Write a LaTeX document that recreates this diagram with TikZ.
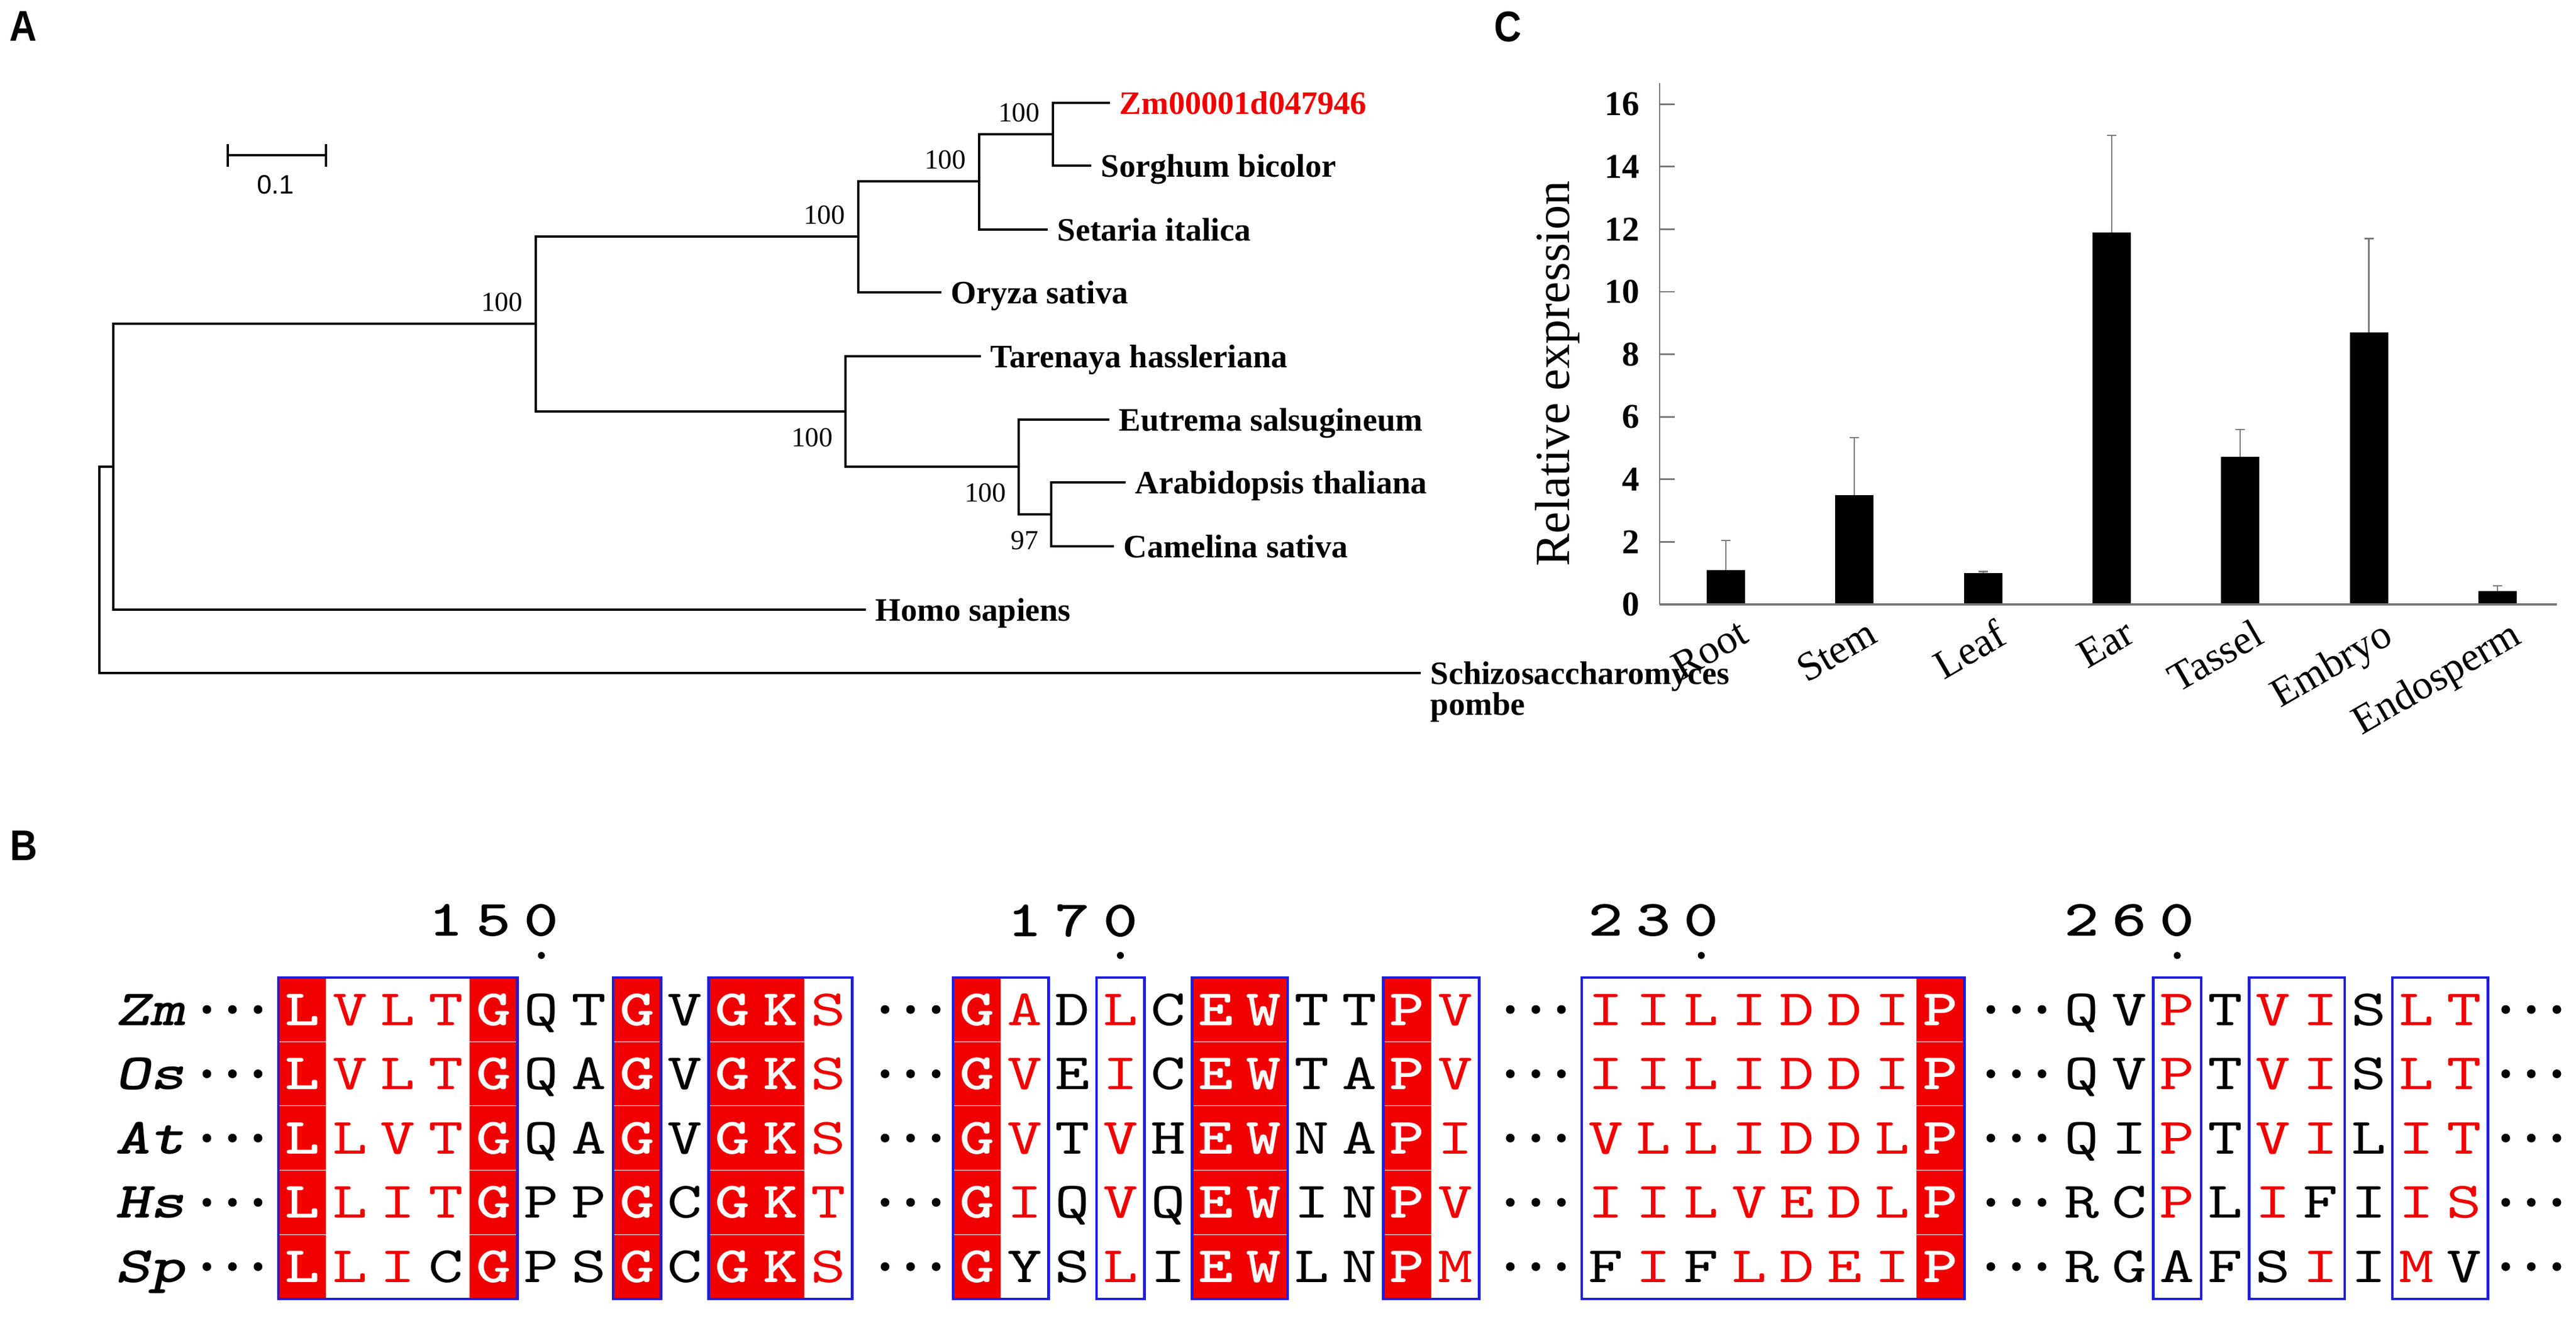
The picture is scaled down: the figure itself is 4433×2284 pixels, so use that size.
\documentclass[tikz,border=0pt]{standalone}
\usepackage{fontspec}
\setmainfont{Liberation Serif}
\newfontfamily\panelfont[FakeStretch=0.88]{Liberation Sans}
\newfontfamily\sbfamily{Liberation Sans}
\newfontfamily\resfont[FakeStretch=1.3]{lmmono10-regular.otf}
\newfontfamily\resboldfont[FakeStretch=1.3]{lmmonolt10-bold.otf}
\newfontfamily\rowfont[FakeStretch=1.3]{lmmonolt10-boldoblique.otf}
\usetikzlibrary{positioning}

\definecolor{espred}{RGB}{240,0,0}
\definecolor{espblue}{RGB}{30,30,220}
\definecolor{axisgray}{RGB}{120,120,120}

\newcommand{\leaffont}{\fontsize{16}{15}\selectfont\bfseries}
\newcommand{\bootfont}{\fontsize{13.5}{16}\selectfont}
\newcommand{\sbfont}{\sbfamily\fontsize{13}{15}\selectfont}
\newcommand{\tickfont}{\fontsize{17}{20}\selectfont\bfseries}
\newcommand{\axisfont}{\fontsize{24}{28}\selectfont}
\newcommand{\catfont}{\fontsize{20}{24}\selectfont}
\newcommand{\panelletter}{\panelfont\bfseries\fontsize{21}{25}\selectfont}
\newcommand{\resfontsize}{\fontsize{25}{30}\selectfont}

% one row of one alignment block: start x, block name, row, residue/code list
\newcommand{\seqrow}[4]{%
  \foreach \res/\code [count=\k from 0] in {#4}{%
    \node[res \code] (#2-#3-\k) at ({#1+82.3*\k+41.15},{1737+110.6*#3}) {\res};
  }}
% three digits on the column grid
\newcommand{\gridnum}[3]{\makebox[0.823cm]{#1}\makebox[0.823cm]{#2}\makebox[0.823cm]{#3}}

\begin{document}
\begin{tikzpicture}[x=0.01cm, y=-0.01cm]
		
		% Setup the styles
		\tikzset{branch/.style={line width=1.1pt},
				leaf/.style={font=\leaffont, anchor=base west, inner sep=0pt,
					xshift=0.16cm, yshift=-0.19cm},
				boot up/.style={font=\bootfont, inner sep=0pt, anchor=south east,
					xshift=-0.22cm, yshift=0.2cm},
				boot down/.style={font=\bootfont, inner sep=0pt, anchor=north east,
					xshift=-0.21cm, yshift=-0.28cm},
				panel/.style={font=\panelletter, inner sep=0pt},
				axisline/.style={draw=axisgray, line width=0.8pt},
				errbar/.style={draw=axisgray, line width=0.6pt},
				ticklabel/.style={font=\tickfont, anchor=east, inner sep=0pt},
				catlabel/.style={font=\catfont, anchor=north east, rotate=30, inner sep=0pt},
				res/.style={inner sep=0pt, minimum width=0.823cm, minimum height=1.096cm,
					text height=0.54cm, text depth=0pt},
				res f/.style={res, fill=espred, text=white, font=\resboldfont\resfontsize},
				res t/.style={res, text=espred, font=\resfont\resfontsize},
				res k/.style={res, text=black, font=\resfont\resfontsize},
				conbox/.style={draw=espblue, line width=1.3pt},
				rowname/.style={font=\rowfont\resfontsize, anchor=east, inner sep=0pt,
					text height=0.54cm, text depth=0pt},
				posnum/.style={font=\resboldfont\resfontsize, inner sep=0pt}}
		
		\fill[white] (0,0) rectangle (4433,2284);
		
		% Panel letters
		\node[panel] (pA) at (40,45) {A};
		\node[panel] (pB) at (41,1455) {B};
		\node[panel] (pC) at (2595,46) {C};
		
		% Scale bar
		\coordinate (sbL) at (392,267);
		\coordinate (sbR) at (561,267);
		\draw[line width=1pt] (sbL) -- (sbR) (392,248) -- (392,287) (561,248) -- (561,287);
		\node[font=\sbfont, inner sep=0pt] (sbtext) at (474,318) {0.1};
		
		% Tree tips and inner nodes
		\foreach \tip/\px/\py in {tZm/1910/177, tSb/1878/285, tSi/1803/395, tOs/1620/503,
			tTh/1688/613, tEs/1909/722, tAt/1937/830, tCs/1917/940, tHs/1490/1049, tSp/2445/1158}
		\coordinate (\tip) at (\px,\py);
		\coordinate (nR) at (171,980);
		\coordinate (nP) at (195,803);
		\coordinate (nQ) at (922,557);
		\coordinate (nM) at (1477,407);
		\coordinate (nS) at (1685,312);
		\coordinate (nZ) at (1812,231);
		\coordinate (nD) at (1455,708);
		\coordinate (nE) at (1753,803);
		\coordinate (nA) at (1809,885);
		
		% Draw the branches
		\draw[branch] (nR) |- (nP) (nR) |- (tSp)
		(nP) |- (nQ) (nP) |- (tHs)
		(nQ) |- (nM) (nQ) |- (nD)
		(nM) |- (nS) (nM) |- (tOs)
		(nS) |- (nZ) (nS) |- (tSi)
		(nZ) |- (tZm) (nZ) |- (tSb)
		(nD) |- (tTh) (nD) |- (nE)
		(nE) |- (tEs) (nE) |- (nA)
		(nA) |- (tAt) (nA) |- (tCs);
		
		% Species names
		\node[leaf, text=espred] (lZm) at (tZm) {Zm00001d047946};
		\node[leaf] (lSb) at (tSb) {Sorghum bicolor};
		\node[leaf] (lSi) at (tSi) {Setaria italica};
		\node[leaf] (lOs) at (tOs) {Oryza sativa};
		\node[leaf] (lTh) at (tTh) {Tarenaya hassleriana};
		\node[leaf] (lEs) at (tEs) {Eutrema salsugineum};
		\node[leaf] (lAt) at (tAt) {Arabidopsis thaliana};
		\node[leaf] (lCs) at (tCs) {Camelina sativa};
		\node[leaf] (lHs) at (tHs) {Homo sapiens};
		\node[font=\leaffont, inner sep=0pt, anchor=north west, align=left,
		xshift=0.16cm, yshift=0.2cm] (lSp) at (tSp) {Schizosaccharomyces\\pombe};
		
		% Bootstrap values
		\node[boot up] (bQ) at (nQ) {100};
		\node[boot up] (bM) at (nM) {100};
		\node[boot up] (bS) at (nS) {100};
		\node[boot up] (bZ) at (nZ) {100};
		\node[boot down] (bD) at (nD) {100};
		\node[boot down] (bE) at (nE) {100};
		\node[boot down] (bA) at (nA) {97};
		
		% Expression chart
		\coordinate (orig) at (2856,1040);
		\coordinate (ytop) at (2856,143);
		\coordinate (xend) at (4400,1040);
		\draw[axisline] (ytop) -- (orig);
		\foreach \v in {0,2,...,16}{
			\draw[axisline] (2856,{1040-53.8*\v}) -- ++(26,0);
			\node[ticklabel] (tick\v) at (2822,{1040-53.8*\v}) {\v};
		}
		\node[font=\axisfont, rotate=90, inner sep=0pt] (ylab) at (2680,643) {Relative expression};
		\foreach \i/\tis/\val/\err in {0/Root/1.1/2.04, 1/Stem/3.5/5.33, 2/Leaf/1.0/1.05,
			3/Ear/11.9/15.0, 4/Tassel/4.72/5.6, 5/Embryo/8.7/11.7, 6/Endosperm/0.43/0.6}{
			\pgfmathsetmacro{\cx}{2970+221.3*\i}
			\pgfmathsetmacro{\bartop}{1040-53.8*\val}
			\pgfmathsetmacro{\errtop}{1040-53.8*\err}
			\draw[errbar] (\cx,\bartop) -- (\cx,\errtop) (\cx-8,\errtop) -- (\cx+8,\errtop);
			\fill (\cx-33,1040) rectangle (\cx+33,\bartop);
			\node[catlabel] (cat\tis) at (\cx+20,1062) {\tis};
		}
		\draw[axisgray, line width=1.3pt] (orig) -- (xend);
		
		% Alignment: names
		\foreach \nm [count=\r from 0] in {Zm,Os,At,Hs,Sp}
		\node[rowname] (name\nm) at (319,{1737+110.6*\r}) {\nm};
		
		% Alignment: residues
		\seqrow{479}{b1}{0}{L/f,V/t,L/t,T/t,G/f,Q/k,T/k,G/f,V/k,G/f,K/f,S/t}
		\seqrow{479}{b1}{1}{L/f,V/t,L/t,T/t,G/f,Q/k,A/k,G/f,V/k,G/f,K/f,S/t}
		\seqrow{479}{b1}{2}{L/f,L/t,V/t,T/t,G/f,Q/k,A/k,G/f,V/k,G/f,K/f,S/t}
		\seqrow{479}{b1}{3}{L/f,L/t,I/t,T/t,G/f,P/k,P/k,G/f,C/k,G/f,K/f,T/t}
		\seqrow{479}{b1}{4}{L/f,L/t,I/t,C/k,G/f,P/k,S/k,G/f,C/k,G/f,K/f,S/t}
		\seqrow{1640}{b2}{0}{G/f,A/t,D/k,L/t,C/k,E/f,W/f,T/k,T/k,P/f,V/t}
		\seqrow{1640}{b2}{1}{G/f,V/t,E/k,I/t,C/k,E/f,W/f,T/k,A/k,P/f,V/t}
		\seqrow{1640}{b2}{2}{G/f,V/t,T/k,V/t,H/k,E/f,W/f,N/k,A/k,P/f,I/t}
		\seqrow{1640}{b2}{3}{G/f,I/t,Q/k,V/t,Q/k,E/f,W/f,I/k,N/k,P/f,V/t}
		\seqrow{1640}{b2}{4}{G/f,Y/k,S/k,L/t,I/k,E/f,W/f,L/k,N/k,P/f,M/t}
		\seqrow{2722}{b3}{0}{I/t,I/t,L/t,I/t,D/t,D/t,I/t,P/f}
		\seqrow{2722}{b3}{1}{I/t,I/t,L/t,I/t,D/t,D/t,I/t,P/f}
		\seqrow{2722}{b3}{2}{V/t,L/t,L/t,I/t,D/t,D/t,L/t,P/f}
		\seqrow{2722}{b3}{3}{I/t,I/t,L/t,V/t,E/t,D/t,L/t,P/f}
		\seqrow{2722}{b3}{4}{F/k,I/t,F/k,L/t,D/t,E/t,I/t,P/f}
		\seqrow{3541}{b4}{0}{Q/k,V/k,P/t,T/k,V/t,I/t,S/k,L/t,T/t}
		\seqrow{3541}{b4}{1}{Q/k,V/k,P/t,T/k,V/t,I/t,S/k,L/t,T/t}
		\seqrow{3541}{b4}{2}{Q/k,I/k,P/t,T/k,V/t,I/t,L/k,I/t,T/t}
		\seqrow{3541}{b4}{3}{R/k,C/k,P/t,L/k,I/t,F/k,I/k,I/t,S/t}
		\seqrow{3541}{b4}{4}{R/k,G/k,A/k,F/k,S/k,I/t,I/k,M/t,V/k}
		
		% Alignment: similarity boxes
		\foreach \bx/\ca/\cb in {479/0/5, 479/7/8, 479/9/12, 1640/0/2, 1640/3/4, 1640/5/7,
			1640/9/11, 2722/0/8, 3541/2/3, 3541/4/6, 3541/7/9}
		\draw[conbox] ({\bx+82.3*\ca},1682) rectangle ({\bx+82.3*\cb},2235);
		
		% Alignment: gap dots
		\foreach \gx in {400,1567,2643,3470,4356}
		\foreach \r in {0,...,4}
		\foreach \d in {-44,0,44}
		\fill ({\gx+\d},{1737+110.6*\r}) circle (7.5);
		
		% Alignment: positions
		\node[posnum] (num150) at ({479+82.3*4.5},1584) {\gridnum150};
		\node[posnum] (num170) at ({1640+82.3*2.5},1584) {\gridnum170};
		\node[posnum] (num230) at ({2722+82.3*1.5},1584) {\gridnum230};
		\node[posnum] (num260) at ({3541+82.3*1.5},1584) {\gridnum260};
		\foreach \px in {520.15+82.3*5, 1640+82.3*3.5, 2722+82.3*2.5, 3541+82.3*2.5}
		\fill (\px,1644) circle (6);
		
\end{tikzpicture}
\end{document}
